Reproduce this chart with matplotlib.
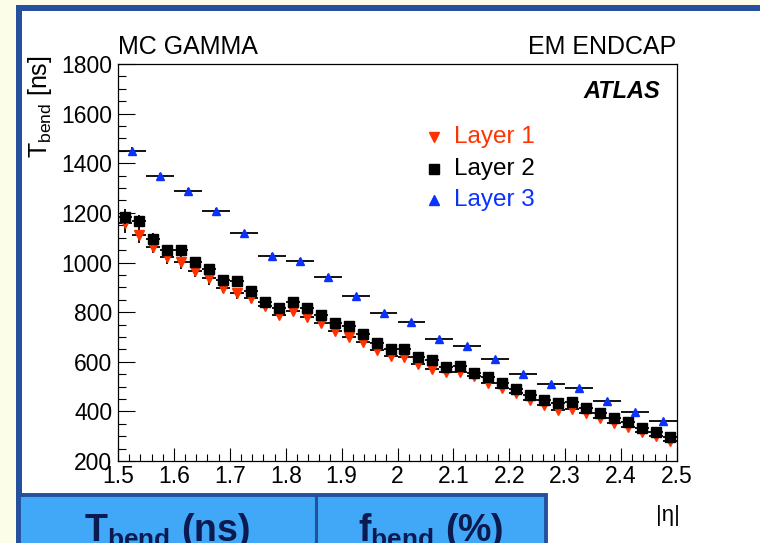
import numpy as np
import matplotlib
matplotlib.use('Agg')
import matplotlib.pyplot as plt
from matplotlib.patches import Rectangle
from matplotlib.lines import Line2D
from matplotlib.ticker import MultipleLocator, FuncFormatter

plt.rcParams['font.family'] = ['Liberation Sans', 'DejaVu Sans']
plt.rcParams['mathtext.fontset'] = 'custom'
plt.rcParams['mathtext.rm'] = 'Liberation Sans'
plt.rcParams['mathtext.it'] = 'Liberation Sans:italic'
plt.rcParams['mathtext.bf'] = 'Liberation Sans:bold'

# |eta| bins: 0.025 wide for layers 1 and 2, 0.05 wide for layer 3
eta_fine = np.arange(40) * 0.025 + 1.5125
eta_coarse = np.arange(20) * 0.05 + 1.525

layer1 = [1160, 1111, 1064, 1023, 1003, 967, 936, 899, 876, 856,
          826, 790, 804, 782, 757, 725, 701, 678, 647, 624,
          620, 590, 570, 558, 560, 541, 513, 494, 474, 447,
          427, 407, 410, 394, 372, 352, 336, 318, 300, 279]
layer1_err = [40, 31, 27, 28, 28, 26, 25, 23, 22, 20,
              18, 17, 16, 15, 15, 14, 14, 13, 13, 12,
              12, 12, 11, 11, 11, 10, 10, 10, 10, 9,
              9, 9, 9, 9, 8, 8, 8, 8, 8, 8]

layer2 = [1185, 1167, 1095, 1052, 1050, 1001, 974, 930, 925, 884,
          842, 815, 842, 815, 788, 757, 744, 711, 674, 650,
          652, 621, 606, 577, 582, 556, 540, 516, 489, 466,
          446, 435, 439, 412, 392, 372, 356, 334, 315, 298]
layer2_err = [30, 25, 22, 20, 19, 18, 17, 16, 15, 14,
              14, 13, 13, 12, 12, 11, 11, 10, 10, 10,
              9, 9, 9, 9, 8, 8, 8, 8, 8, 7,
              7, 7, 7, 7, 7, 7, 7, 7, 7, 7]

layer3 = [1449, 1349, 1288, 1209, 1118, 1028, 1008, 943, 866, 795,
          759, 691, 664, 611, 551, 510, 494, 442, 399, 361]
layer3_err = [15, 13, 12, 11, 10, 10, 9, 9, 8, 8,
              8, 7, 7, 7, 6, 6, 6, 6, 5, 5]

labels = ['Layer 1', 'Layer 2', 'Layer 3']
colors = ['#ff3300', 'black', '#0a32ff']
markers = ['v', 's', '^']

W, H = 760, 543


def fx(px):
    return px / W


def fy(py):
    return 1 - py / H


fig = plt.figure(figsize=(7.6, 5.43), dpi=100, facecolor='#fbfde9')

# slide frame: white panel with dark blue border on the left and top
frame_blue = '#24509d'
fig.patches.append(Rectangle((fx(22), 0), 1 - fx(22), fy(11), transform=fig.transFigure,
                             facecolor='white', edgecolor='none', zorder=-2))
fig.patches.append(Rectangle((fx(16), 0), 6 / W, fy(5), transform=fig.transFigure,
                             facecolor=frame_blue, edgecolor='none', zorder=-1))
fig.patches.append(Rectangle((fx(16), fy(11)), 1 - fx(16), 6 / H, transform=fig.transFigure,
                             facecolor=frame_blue, edgecolor='none', zorder=-1))

# table header below the plot
fig.patches.append(Rectangle((fx(19), -0.01), fx(546) - fx(19), fy(495) + 0.01,
                             transform=fig.transFigure, facecolor='#40a8f6',
                             edgecolor=frame_blue, linewidth=2.8, zorder=2))
fig.lines.append(Line2D([fx(316), fx(316)], [0, fy(495)], transform=fig.transFigure,
                        color=frame_blue, linewidth=2.2, zorder=3))
navy = '#0c1a52'
fig.text(fx(167), fy(541), r'T$_{\bf bend}$ (ns)', ha='center', va='baseline',
         fontsize=27, fontweight='bold', color=navy, zorder=4)
fig.text(fx(431), fy(541), r'f$_{\bf bend}$ (%)', ha='center', va='baseline',
         fontsize=27, fontweight='bold', color=navy, zorder=4)

ax = fig.add_axes([fx(118), fy(461), (677 - 118) / W, (461 - 64) / H])
ax.set_zorder(1)
ax.set_facecolor('white')

ax.errorbar(eta_fine, layer1, xerr=0.0125, yerr=layer1_err, fmt='v', ms=7,
            color=colors[0], mec=colors[0], ecolor='black', elinewidth=1.3,
            capsize=0, zorder=3)
ax.errorbar(eta_fine, layer2, xerr=0.0125, yerr=layer2_err, fmt='s', ms=7,
            color=colors[1], mec=colors[1], ecolor='black', elinewidth=1.3,
            capsize=0, zorder=4)
ax.errorbar(eta_coarse, layer3, xerr=0.025, yerr=layer3_err, fmt='^', ms=6,
            color=colors[2], mec=colors[2], ecolor='black', elinewidth=1.3,
            capsize=0, zorder=5)

ax.set_xlim(1.5, 2.5)
ax.set_ylim(200, 1800)
ax.xaxis.set_major_locator(MultipleLocator(0.1))
ax.xaxis.set_minor_locator(MultipleLocator(0.02))
ax.yaxis.set_major_locator(MultipleLocator(200))
ax.yaxis.set_minor_locator(MultipleLocator(50))
ax.xaxis.set_major_formatter(FuncFormatter(lambda v, p: f'{v:g}'))
ax.tick_params(which='both', direction='in', top=False, right=False,
               labelsize=16.5, width=0.8, colors='black')
ax.tick_params(axis='y', which='major', length=12, pad=4)
ax.tick_params(axis='y', which='minor', length=6)
ax.tick_params(axis='x', which='major', length=9.5, pad=3)
ax.tick_params(axis='x', which='minor', length=5)
for s in ax.spines.values():
    s.set_linewidth(0.9)

# legend drawn by hand
leg_y = [0.816, 0.7355, 0.657]
for lab, c, m, y in zip(labels, colors, markers, leg_y):
    ax.plot([0.565], [y], marker=m, ms=7, color=c, transform=ax.transAxes,
            clip_on=False, zorder=6)
    ax.text(0.601, y, lab, color=c, fontsize=17.5, va='center', ha='left',
            transform=ax.transAxes)

ax.text(0.9696, 0.9295, 'ATLAS', fontsize=17, fontweight='bold', style='italic',
        ha='right', va='center', transform=ax.transAxes)

fig.text(fx(118), fy(54), 'MC GAMMA', fontsize=18, ha='left', va='baseline')
fig.text(fx(676), fy(54), 'EM ENDCAP', fontsize=18, ha='right', va='baseline')
fig.text(fx(40), fy(55), r'T$_{\rm bend}$ [ns]', rotation=90, ha='center', va='top',
         fontsize=18)
fig.text(fx(668), fy(515), '|η|', fontsize=16, ha='center', va='center')

fig.savefig('out.png', dpi=100, facecolor=fig.get_facecolor())
